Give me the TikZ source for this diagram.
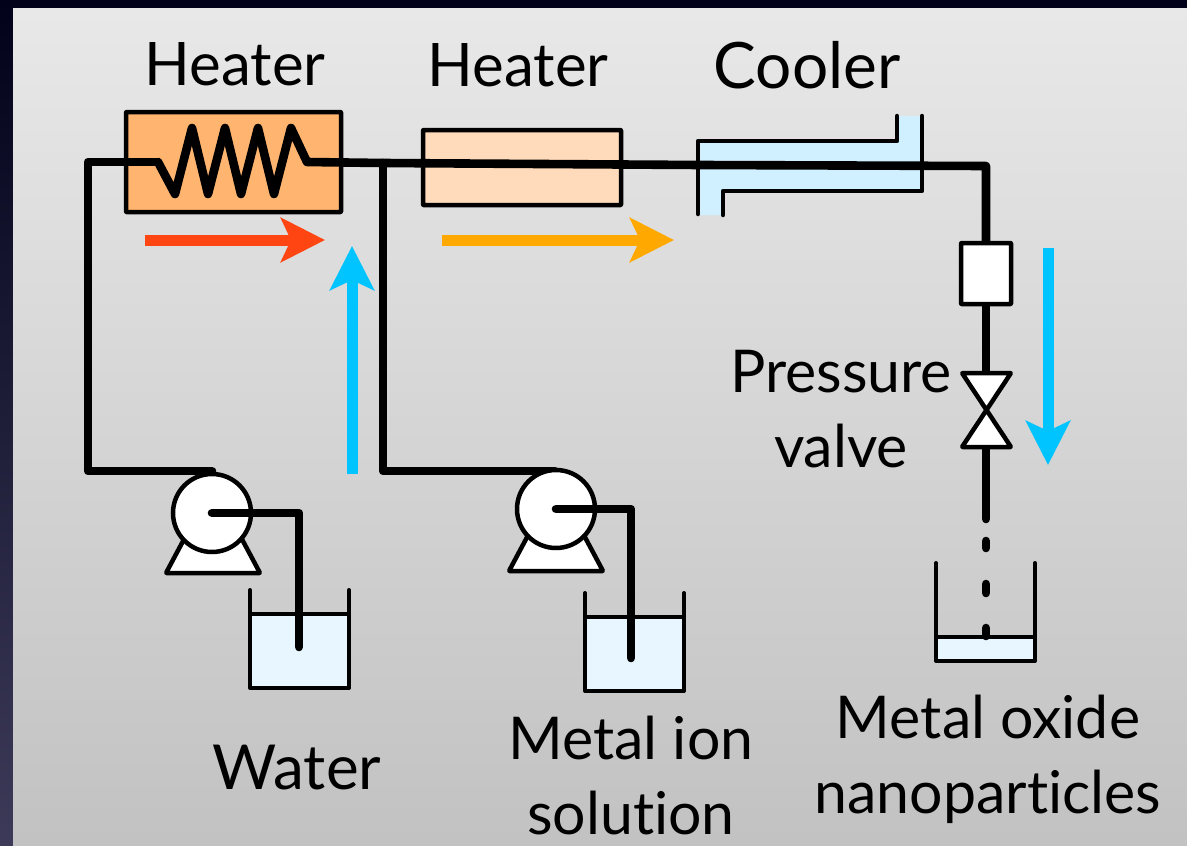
\documentclass[tikz,border=0pt]{standalone}
\usepackage{fontspec}
\setmainfont[Ligatures=NoCommon]{Lato}
\usetikzlibrary{arrows.meta,calc}
\definecolor{heatA}{HTML}{FFB570}
\definecolor{heatB}{HTML}{FFDBBB}
\definecolor{coolc}{HTML}{D0F0FF}
\definecolor{liq}{HTML}{E8F7FF}
\definecolor{skyb}{HTML}{00C4FF}
\definecolor{redar}{HTML}{FF4512}
\definecolor{orar}{HTML}{FFA800}
\definecolor{backT}{HTML}{02021A}
\definecolor{backB}{HTML}{3C3A58}
\tikzset{
  pipe/.style={draw=black,line width=8.6pt,line join=round,line cap=round},
  thin pipe/.style={draw=black,line width=4.5pt,line join=round,line cap=round},
  box/.style={draw=black,line width=4.5pt,line join=round,rounded corners=0.5pt,outer sep=0pt,inner sep=0pt},
  lab/.style={font=\fontsize{60}{71}\selectfont,text=black,inner sep=0pt,align=center},
  flow/.style={line width=11pt,-{Stealth[length=44pt,width=44pt,inset=10pt]}},
}
\begin{document}
\begin{tikzpicture}[x=1pt,y=-1pt]
\useasboundingbox (0,0) rectangle (1187,846);
% backdrop and panel
\shade[top color=backT,bottom color=backB] (0,0) rectangle (1187,846);
\fill[top color=white!91!black,bottom color=white!76!black] (13,8) rectangle (1187,846);

% tube and heater bodies (fills go under the pipes)
\node[box,fill=heatA,minimum width=215pt,minimum height=100pt,anchor=north west] (heaterA) at (126,112) {};
\node[box,fill=heatB,minimum width=198pt,minimum height=75pt,anchor=north west] (heaterB) at (423,130) {};
\fill[coolc] (698,141) -- (898,141) -- (898,116) -- (922,116) -- (922,191) -- (723,191) -- (723,215) -- (698,215) -- cycle;

% coordinates
\coordinate (corner1) at (88,162);
\coordinate (pumpAtop) at (212,471);
\coordinate (corner1b) at (88,471);
\coordinate (zigL) at (158,162);
\coordinate (zigR) at (307,162);
\coordinate (junction) at (383,163);
\coordinate (corner2b) at (383,471);
\coordinate (corner3) at (986,166);
\coordinate (vTopOut) at (986,243);

% water line
\draw[pipe] (pumpAtop) -- (corner1b) -- (corner1) -- (zigL);
% heated section
\draw[pipe] (zigL) -- (175,194) -- (192,128) -- (208,194) -- (225,128) -- (241,194) -- (258,128) -- (274,194) -- (291,128) -- (zigR) -- (junction) -- (700,165) -- (corner3) -- (vTopOut);
% metal ion line
\draw[pipe] (junction) -- (corner2b) -- (555,471);

% cooler outline
\draw[thin pipe] (698,214) -- (698,141) -- (897,141) -- (897,116);
\draw[thin pipe] (922,116) -- (922,191) -- (723,191) -- (723,215);

% valve line, then filter on top of it
\coordinate (fBottom) at (986,304);
\coordinate (vB) at (986,372);
\coordinate (vC) at (986,447);
\coordinate (vD) at (986,519);
\draw[pipe] (fBottom) -- (vB);
\draw[pipe] (vC) -- (vD);
\node[box,fill=white,minimum width=50pt,minimum height=61pt,anchor=north west] (filter) at (961,243) {};
\draw[box,fill=white] (962,373) -- (1011,373) -- (962,447) -- (1011,447) -- cycle;

% beakers and pumps, water
\fill[liq] (250,615) rectangle (349,688);
\draw[thin pipe,line width=4pt] (250,590) -- (250,688) -- (349,688) -- (349,590);
\draw[black,line width=4pt] (248,614) -- (350,614);
\draw[box,fill=white] (166,573) -- (260,573) -- (236,528) -- (190,528) -- cycle;
\node[circle,draw=black,line width=4.5pt,fill=white,minimum size=78pt,inner sep=0pt,outer sep=0pt] (pumpA) at (212,513) {};
\draw[pipe] (pumpA.center) -- (299,513) -- (299,647);

% metal ion
\fill[liq] (585,618) rectangle (684,691);
\draw[thin pipe,line width=4pt] (585,593) -- (585,691) -- (684,691) -- (684,593);
\draw[black,line width=4pt] (583,617) -- (685,617);
\draw[box,fill=white] (509,571) -- (603,571) -- (579,526) -- (533,526) -- cycle;
\node[circle,draw=black,line width=4.5pt,fill=white,minimum size=78pt,inner sep=0pt,outer sep=0pt] (pumpB) at (556,509) {};
\draw[pipe] (pumpB.center) -- (631,509) -- (631,658);

% collection beaker
\fill[liq] (936,638) rectangle (1035,661);
\draw[thin pipe,line width=4pt] (936,563) -- (936,661) -- (1035,661) -- (1035,563);
\draw[black,line width=4pt] (934,637) -- (1036,637);
\coordinate (d1a) at (986,541); \coordinate (d1b) at (986,548);
\coordinate (d2a) at (986,584); \coordinate (d2b) at (986,593);
\coordinate (d3a) at (986,628); \coordinate (d3b) at (986,636);
\draw[pipe] (d1a) -- (d1b);
\draw[pipe] (d2a) -- (d2b);
\draw[pipe] (d3a) -- (d3b);

% flow arrows
\coordinate (fr1) at (145,240); \coordinate (fr2) at (325,240);
\coordinate (fo1) at (442,240); \coordinate (fo2) at (674,240);
\coordinate (fb1) at (352,474); \coordinate (fb2) at (352,246);
\coordinate (fc1) at (1048,248); \coordinate (fc2) at (1048,465);
\draw[flow,redar] (fr1) -- (fr2);
\draw[flow,orar] (fo1) -- (fo2);
\draw[flow,skyb] (fb1) -- (fb2);
\draw[flow,skyb] (fc1) -- (fc2);

% labels
\node[lab] (lh1) at (235,64) {Heater};
\node[lab] (lh2) at (518,65) {Heater};
\node[lab,font=\fontsize{64}{71}\selectfont] (lc) at (807,65) {Cooler};
\node[lab,font=\fontsize{59}{71}\selectfont] (lp) at (841,409) {Pressure\\[4pt]valve};
\node[lab,font=\fontsize{62}{71}\selectfont] (lw) at (297,768) {Water};
\node[lab,font=\fontsize{59}{71}\selectfont] (lm) at (631,776) {Metal ion\\[4pt]solution};
\node[lab,font=\fontsize{59}{71}\selectfont] (lo) at (988,759) {Metal oxide\\[4pt]nanoparticles};
\end{tikzpicture}
\end{document}
